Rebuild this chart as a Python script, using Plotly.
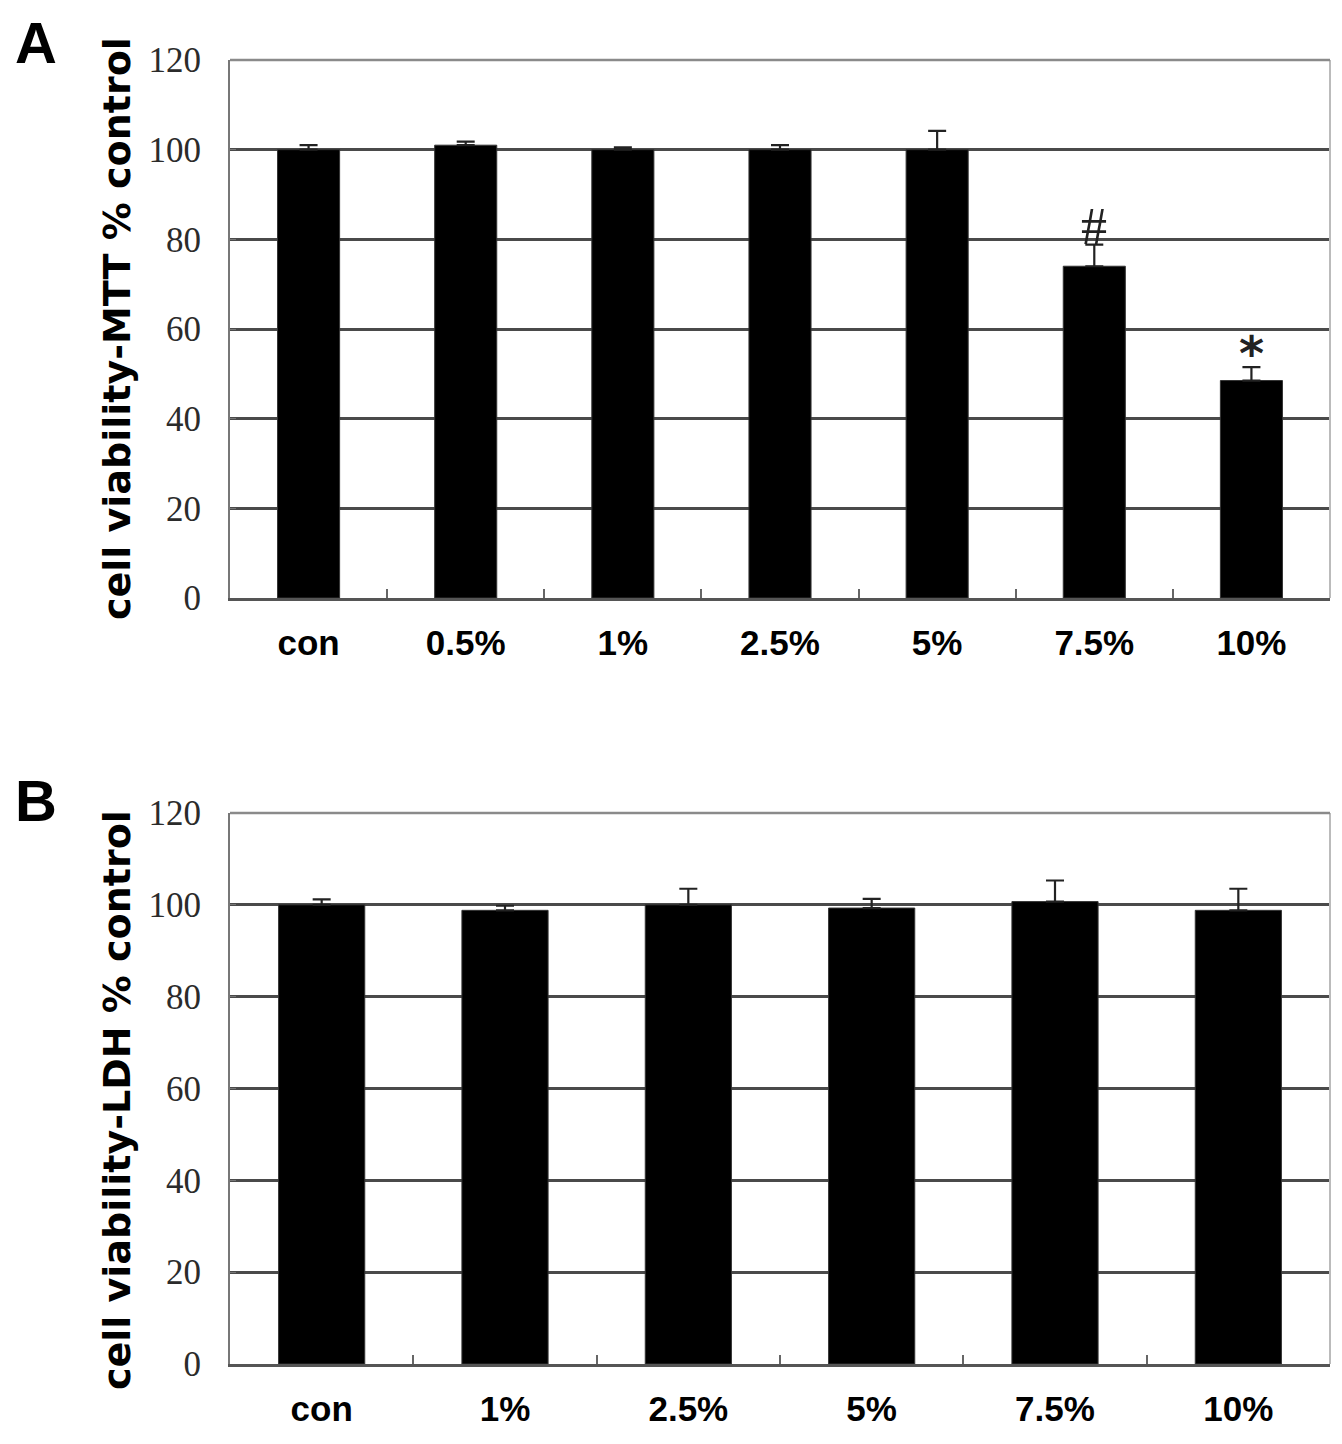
import plotly.graph_objects as go

# ---- data ----
mtt_cats = ["con", "0.5%", "1%", "2.5%", "5%", "7.5%", "10%"]
mtt_vals = [100, 101, 100, 100, 100, 74, 48.5]
mtt_err = [1.0, 0.8, 0.5, 1.0, 4.2, 4.8, 3.0]
mtt_sig = ["", "", "", "", "", "#", "*"]

ldh_cats = ["con", "1%", "2.5%", "5%", "7.5%", "10%"]
ldh_vals = [100, 98.8, 100, 99.3, 100.7, 98.8]
ldh_err = [1.2, 1.0, 3.5, 2.0, 4.6, 4.7]

y_ticks = [0, 20, 40, 60, 80, 100, 120]
panel_labels = ["A", "B"]
y_titles = ["cell viability-MTT % control", "cell viability-LDH % control"]

# page has an 8px body margin, so the figure is 16px smaller than the window
OFF = 8
W, H = 1342 - 2 * OFF, 1444 - 2 * OFF
def px_x(p):
    return (p - OFF) / W
def px_y(p):
    return 1 - (p - OFF) / H

fig = go.Figure()

err_style = dict(type="data", symmetric=False, color="#222222", thickness=2.2, width=9)

fig.add_trace(go.Bar(
    x=mtt_cats, y=mtt_vals, width=0.395,
    marker=dict(color="black", line=dict(color="#333", width=1)),
    error_y=dict(array=mtt_err, arrayminus=[0] * len(mtt_err), **err_style),
    xaxis="x", yaxis="y", showlegend=False,
))
fig.add_trace(go.Bar(
    x=ldh_cats, y=ldh_vals, width=0.47,
    marker=dict(color="black", line=dict(color="#333", width=1)),
    error_y=dict(array=ldh_err, arrayminus=[0] * len(ldh_err), **err_style),
    xaxis="x2", yaxis="y2", showlegend=False,
))

xdom = [px_x(230), px_x(1330)]
common_x = dict(
    domain=xdom, type="category", automargin=False,
    showline=True, linecolor="#555", linewidth=3,
    ticks="inside", tickson="boundaries", ticklen=9, tickcolor="#666", tickwidth=2,
    tickfont=dict(family="Liberation Sans, Arial, sans-serif",
                  size=35, color="black", weight="bold"),
    ticklabelstandoff=12, showgrid=False, zeroline=False, fixedrange=True,
)
common_y = dict(
    range=[0, 120], tickvals=y_ticks, ticktext=[str(v) for v in y_ticks],
    automargin=False,
    showline=True, linecolor="#777", linewidth=2,
    ticks="inside", ticklen=6, tickcolor="#777",
    showgrid=True, gridcolor="#4a4a4a", gridwidth=2.5,
    zeroline=False,
    tickfont=dict(family="Liberation Serif, Times New Roman, serif", size=35, color="#2b2b2b"),
    ticklabelstandoff=20, fixedrange=True,
)

fig.update_layout(
    width=W, height=H,
    margin=dict(l=0, r=0, t=0, b=0, autoexpand=False),
    paper_bgcolor="white", plot_bgcolor="white",
    xaxis=dict(anchor="y", **common_x),
    yaxis=dict(anchor="x", domain=[px_y(598), px_y(60)], **common_y),
    xaxis2=dict(anchor="y2", **common_x),
    yaxis2=dict(anchor="x2", domain=[px_y(1364), px_y(813)], **common_y),
)

# right-hand and top frame lines
for xr, yr in [("x domain", "y domain"), ("x2 domain", "y2 domain")]:
    fig.add_shape(type="line", xref=xr, yref=yr, x0=1, x1=1, y0=0, y1=1,
                  line=dict(color="#bbbbbb", width=2))
    fig.add_shape(type="line", xref=xr, yref=yr, x0=0, x1=1, y0=1, y1=1,
                  line=dict(color="#8a8a8a", width=2.5))

annotations = []
# significance marks
for c, v, e, s in zip(mtt_cats, mtt_vals, mtt_err, mtt_sig):
    if s:
        annotations.append(dict(
            x=c, y=v + e, xref="x", yref="y", text=s, showarrow=False,
            yanchor="bottom", yshift=-12 if s == "#" else -16,
            font=dict(family="Liberation Serif, serif" if s == "#" else "DejaVu Sans, sans-serif",
                      size=52 if s == "#" else 48, color="#222",
                      weight="normal" if s == "#" else "bold"),
        ))

# y-axis titles
for t, yc in zip(y_titles, [329, 1100]):
    annotations.append(dict(
        x=px_x(117), y=px_y(yc), xref="paper", yref="paper", text=t, showarrow=False,
        textangle=-90, xanchor="center", yanchor="middle",
        font=dict(family="DejaVu Sans, sans-serif", size=38, color="black", weight="bold"),
    ))

# panel labels
for lab, yc in zip(panel_labels, [42, 800]):
    annotations.append(dict(
        x=px_x(36), y=px_y(yc), xref="paper", yref="paper", text=lab, showarrow=False,
        xanchor="center", yanchor="middle",
        font=dict(family="Liberation Sans, Arial, sans-serif",
                  size=58, color="black", weight="bold"),
    ))

fig.update_layout(annotations=annotations)

fig.write_html("out.html")
